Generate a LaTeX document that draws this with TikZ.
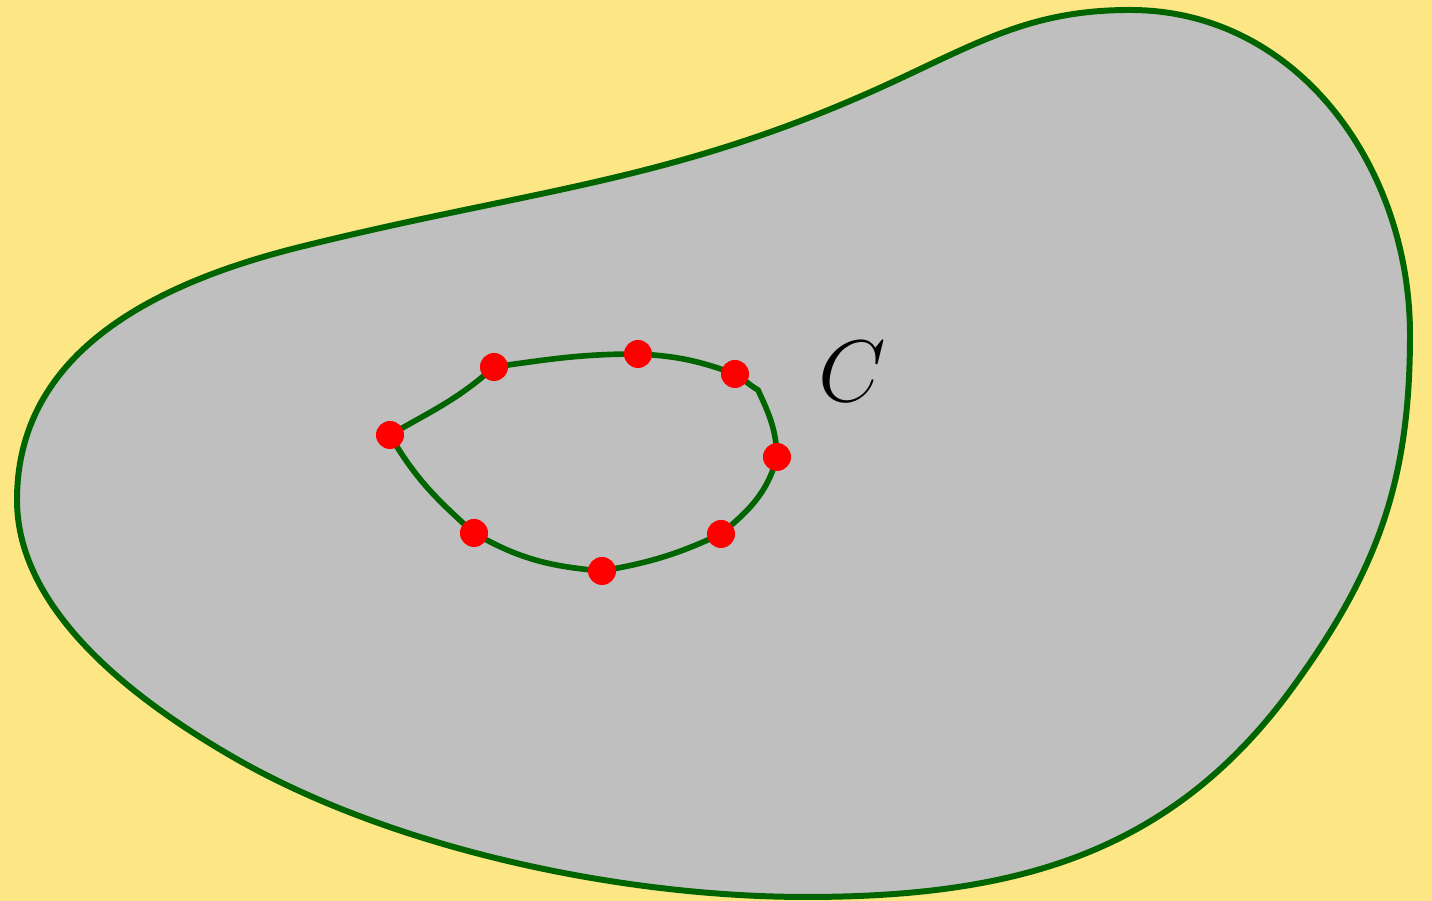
\documentclass[tikz,border=0pt]{standalone}
\usetikzlibrary{positioning}
\definecolor{paper}{RGB}{253,230,132}
\definecolor{leaf}{RGB}{0,100,0}
\begin{document}
\begin{tikzpicture}[
    x=0.01cm, y=0.01cm,
    region/.style={draw=leaf, line width=1.7pt, fill=black!25},
    loopline/.style={draw=leaf, line width=1.6pt},
    sample/.style={circle, fill=red, inner sep=0pt, minimum size=0.28cm},
    lbl/.style={font=\fontsize{28}{34}\selectfont}
]
    % background
    \fill[paper] (0,0) rectangle (1432,901);
    \useasboundingbox (0,0) rectangle (1432,901);

    % outer region
    \draw[region] (17,401) to[out=90, in=194] (300,654)
        to[out=14, in=205] (897,821)
        to[out=25, in=180] (1130,891)
        to[out=0, in=90] (1410,566)
        to[out=-90, in=54] (1293,214)
        to[out=-126, in=0] (806,4)
        to[out=180, in=-30, looseness=0.8] (233,144)
        to[out=150, in=-90, looseness=0.85] cycle;

    % inner loop
    \coordinate (a) at (390,466);
    \coordinate (b) at (494,534);
    \coordinate (c) at (638,547);
    \coordinate (d) at (735,527);
    \coordinate (k) at (758,511);
    \coordinate (e) at (777,444);
    \coordinate (f) at (721,367);
    \coordinate (g) at (602,330);
    \coordinate (h) at (474,368);

    \draw[loopline] (a) to[out=30, in=222] (b)
        to[out=8, in=180] (c)
        to[out=-3, in=160] (d)
        to[out=-30, in=150] (k)
        to[out=-65, in=92] (e)
        to[out=-105, in=40] (f)
        to[out=205, in=10] (g)
        to[out=175, in=-30] (h)
        to[out=138, in=-60] (a);

    \foreach \n in {a,b,c,d,e,f,g,h}
        \node[sample] (dot-\n) at (\n) {};

    \node[lbl] (curve) at (852,529) {$C$};
\end{tikzpicture}
\end{document}
